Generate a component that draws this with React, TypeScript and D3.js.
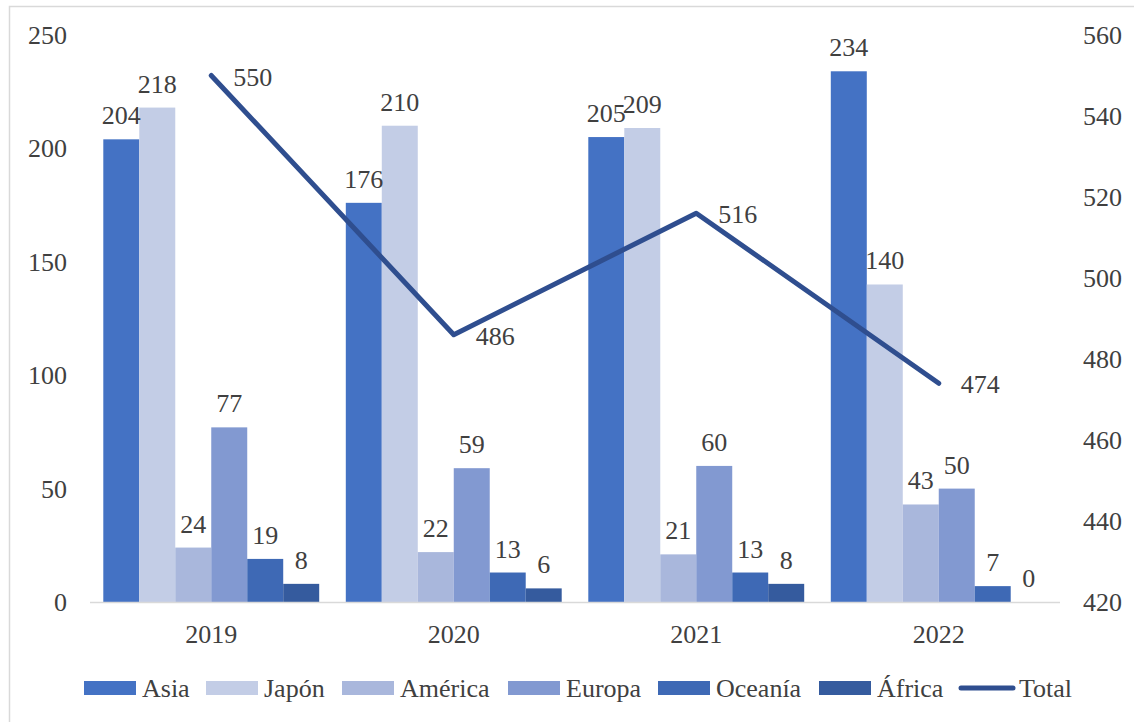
import React from "react";
import * as d3 from "d3";

const years = ["2019", "2020", "2021", "2022"];
const seriesNames = ["Asia", "Japón", "América", "Europa", "Oceanía", "África"];
const asia = [204, 176, 205, 234];
const japon = [218, 210, 209, 140];
const america = [24, 22, 21, 43];
const europa = [77, 59, 60, 50];
const oceania = [19, 13, 13, 7];
const africa = [8, 6, 8, 0];
const total = [550, 486, 516, 474];
const leftTicks = [0, 50, 100, 150, 200, 250];
const rightTicks = [420, 440, 460, 480, 500, 520, 540, 560];
const colors = ["#4472C4", "#C3CDE6", "#A9B7DC", "#8299D1", "#3E69B5", "#355B9E"];
const lineColor = "#2F4E8F";

const W = 1134, H = 722;
const plotL = 90, plotR = 1060, plotT = 35, plotB = 602;
const FONT = '"Liberation Serif"';
const TXT = "#404040";
const ts: React.CSSProperties = { fontFamily: FONT, fontSize: 26, fill: TXT };

export default function App() {
  const series = [asia, japon, america, europa, oceania, africa];
  const x0 = d3.scaleBand().domain(years).range([plotL, plotR]).paddingInner(0).paddingOuter(0);
  const sideGap = 13.3;
  const x1 = d3
    .scaleBand()
    .domain(seriesNames)
    .range([sideGap, x0.bandwidth() - sideGap])
    .padding(0);
  const barW = x1.bandwidth();
  const yL = d3.scaleLinear().domain([0, 250]).range([plotB, plotT]);
  const yR = d3.scaleLinear().domain([420, 560]).range([plotB, plotT]);
  const cx = (y: string) => (x0(y) as number) + x0.bandwidth() / 2;
  const line = d3.line<number>().x((_, i) => cx(years[i])).y((d) => yR(d));

  const legendItems = [
    { name: "Asia", sx: 84, tx: 142 },
    { name: "Japón", sx: 206, tx: 264 },
    { name: "América", sx: 342, tx: 400 },
    { name: "Europa", sx: 508, tx: 566 },
    { name: "Oceanía", sx: 658, tx: 716 },
    { name: "África", sx: 819, tx: 877 },
  ];

  return (
    <svg width={W} height={H} style={{ position: "absolute", left: 0, top: 0, background: "#fff" }}>
      <rect x={0} y={0} width={W} height={H} fill="#fff" />
      <rect x={9.5} y={6.5} width={W + 20} height={H + 20} fill="none" stroke="#D9D9D9" strokeWidth={1.5} />
      {years.map((yr, yi) => (
        <g key={yr} transform={`translate(${x0(yr)},0)`}>
          {series.map((s, si) => (
            <rect
              key={si}
              x={x1(seriesNames[si])}
              y={yL(s[yi])}
              width={barW}
              height={plotB - yL(s[yi])}
              fill={colors[si]}
            />
          ))}
        </g>
      ))}
      <line x1={plotL} x2={plotR} y1={plotB + 0.5} y2={plotB + 0.5} stroke="#D9D9D9" strokeWidth={1.5} />
      {years.map((yr, yi) => (
        <g key={"l" + yr} transform={`translate(${x0(yr)},0)`}>
          {series.map((s, si) => (
            <text
              key={si}
              x={(x1(seriesNames[si]) as number) + barW / 2}
              y={yL(s[yi]) - 15}
              textAnchor="middle"
              style={ts}
            >
              {s[yi]}
            </text>
          ))}
        </g>
      ))}
      <path
        d={line(total) as string}
        fill="none"
        stroke={lineColor}
        strokeWidth={5}
        strokeLinejoin="round"
        strokeLinecap="round"
      />
      {total.map((v, i) => (
        <text key={"t" + i} x={cx(years[i]) + 22} y={yR(v) + 10} style={ts}>
          {v}
        </text>
      ))}
      {leftTicks.map((t) => (
        <text key={"yl" + t} x={67} y={yL(t) + 9} textAnchor="end" style={ts}>
          {t}
        </text>
      ))}
      {rightTicks.map((t) => (
        <text key={"yr" + t} x={1083} y={yR(t) + 9} textAnchor="start" style={ts}>
          {t}
        </text>
      ))}
      {years.map((yr) => (
        <text key={"x" + yr} x={cx(yr)} y={643} textAnchor="middle" style={ts}>
          {yr}
        </text>
      ))}
      {legendItems.map((it, i) => (
        <g key={it.name}>
          <rect x={it.sx} y={681} width={52} height={14} fill={colors[i]} />
          <text x={it.tx} y={697} style={ts}>
            {it.name}
          </text>
        </g>
      ))}
      <line x1={961} x2={1013} y1={688} y2={688} stroke={lineColor} strokeWidth={5} strokeLinecap="round" />
      <text x={1019} y={697} style={ts}>
        Total
      </text>
    </svg>
  );
}
